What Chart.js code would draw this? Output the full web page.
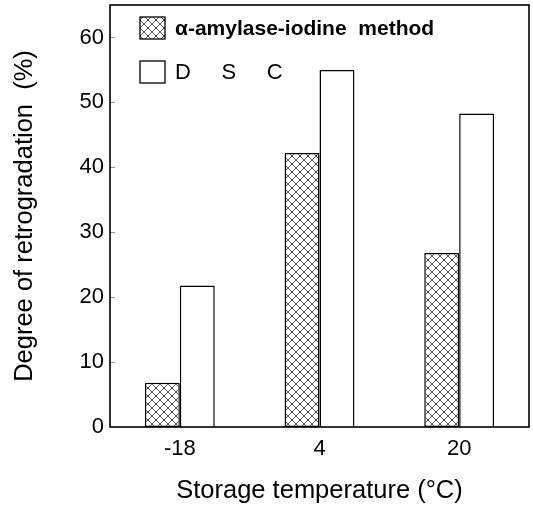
<!DOCTYPE html>
<html>
<head>
<meta charset="utf-8">
<script src="https://cdn.jsdelivr.net/npm/chart.js@4/dist/chart.umd.min.js"></script>
<style>
  html, body { margin: 0; padding: 0; background: #fff; }
  #wrap { width: 533px; height: 506px; position: relative; }
</style>
</head>
<body>
<div id="wrap"><canvas id="c"></canvas></div>
<script>
// ---- data ----
const categories = ['-18', '4', '20'];
const amylaseValues = [6.8, 42.2, 26.8];
const dscValues = [21.8, 55.0, 48.3];
const seriesLabels = ['\u03B1-amylase-iodine  method', 'D     S     C'];
const yAxisTitle = 'Degree of retrogradation  (%)';
const xAxisTitle = 'Storage temperature (\u00B0C)';

const FONT = '"Liberation Sans", Arial, Helvetica, sans-serif';

function makeHatch() {
  const s = 8;
  const p = document.createElement('canvas');
  p.width = s; p.height = s;
  const g = p.getContext('2d');
  g.fillStyle = '#fff';
  g.fillRect(0, 0, s, s);
  g.strokeStyle = '#444';
  g.lineWidth = 0.9;
  g.beginPath();
  g.moveTo(-1, -1); g.lineTo(s + 1, s + 1);
  g.moveTo(-1, s + 1); g.lineTo(s + 1, -1);
  g.stroke();
  g.fillStyle = '#000';
  g.fillRect(3.5, 3.5, 1, 1);
  return g.createPattern(p, 'repeat');
}
const hatch = makeHatch();

const framePlugin = {
  id: 'frame',
  afterDraw(chart) {
    const { ctx, chartArea: a, scales } = chart;
    ctx.save();
    // inward y tick marks
    ctx.strokeStyle = '#999';
    ctx.lineWidth = 1;
    scales.y.ticks.forEach(t => {
      if (t.value === 0) return;
      const y = Math.round(scales.y.getPixelForValue(t.value)) + 0.5;
      ctx.beginPath();
      ctx.moveTo(a.left, y);
      ctx.lineTo(a.left + 5, y);
      ctx.stroke();
    });
    // frame
    ctx.strokeStyle = '#000';
    ctx.lineWidth = 1.6;
    ctx.strokeRect(a.left, a.top, a.right - a.left, a.bottom - a.top);
    // legend inside plot
    const items = [
      { y: 17, font: 'bold 21px ' + FONT },
      { y: 61, font: '22px ' + FONT }
    ];
    chart.data.datasets.forEach((ds, i) => {
      const it = items[i];
      ctx.fillStyle = ds.backgroundColor;
      ctx.fillRect(140, it.y, 25, 22);
      ctx.strokeStyle = '#000';
      ctx.lineWidth = 1.3;
      ctx.strokeRect(140, it.y, 25, 22);
      ctx.fillStyle = '#000';
      ctx.font = it.font;
      ctx.textAlign = 'left';
      ctx.textBaseline = 'middle';
      ctx.fillText(ds.label, 175, it.y + 12);
    });
    ctx.restore();
  }
};

new Chart(document.getElementById('c'), {
  type: 'bar',
  data: {
    labels: categories,
    datasets: [
      {
        label: seriesLabels[0],
        data: amylaseValues,
        backgroundColor: hatch,
        borderColor: '#000',
        borderWidth: 1.5,
        borderSkipped: false
      },
      {
        label: seriesLabels[1],
        data: dscValues,
        backgroundColor: '#fff',
        borderColor: '#000',
        borderWidth: 1.5,
        borderSkipped: 'start'
      }
    ]
  },
  options: {
    responsive: true,
    maintainAspectRatio: false,
    animation: false,
    devicePixelRatio: 1,
    layout: { padding: { top: 5, right: 4, left: 0, bottom: 0 } },
    datasets: { bar: { categoryPercentage: 0.5, barPercentage: 1.0 } },
    plugins: { legend: { display: false }, tooltip: { enabled: false }, title: { display: false } },
    scales: {
      x: {
        grid: { display: false, drawTicks: false },
        border: { display: false },
        ticks: { color: '#000', padding: 9, font: { family: FONT, size: 22 } },
        title: {
          display: true, text: xAxisTitle, color: '#000',
          font: { family: FONT, size: 25.5 }, padding: { top: 0, bottom: 0 }
        },
        afterFit(s) { s.height = 79; s.paddingLeft = 0; s.paddingRight = 0; }
      },
      y: {
        min: 0, max: 65,
        grid: { display: false, drawTicks: false },
        border: { display: false },
        ticks: { stepSize: 10, includeBounds: false, color: '#000', padding: 6, font: { family: FONT, size: 22 } },
        title: {
          display: true, text: yAxisTitle, color: '#000',
          font: { family: FONT, size: 25.5 }, padding: { top: 10, bottom: 0 }
        },
        afterFit(s) { s.width = 110; s.paddingTop = 0; s.paddingBottom = 0; }
      }
    }
  },
  plugins: [framePlugin]
});
</script>
</body>
</html>
